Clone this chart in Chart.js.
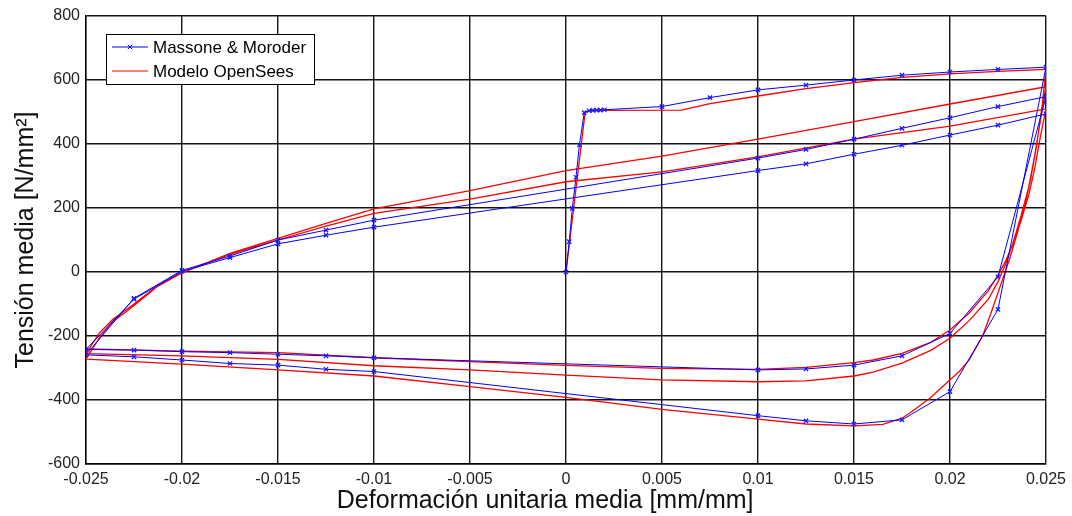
<!DOCTYPE html>
<html><head><meta charset="utf-8">
<script src="https://cdn.jsdelivr.net/npm/chart.js@4/dist/chart.umd.min.js"></script>
<style>html,body{margin:0;padding:0;background:#fff;overflow:hidden}</style>
</head><body>
<canvas id="c" width="1072" height="516"></canvas>
<script>
// ---- labels ----
const seriesNames = ['Massone & Moroder', 'Modelo OpenSees'];
const xTitle = 'Deformación unitaria media [mm/mm]';
const yTitle = 'Tensión media [N/mm²]';
const xTickValues = [-0.025,-0.02,-0.015,-0.01,-0.005,0,0.005,0.01,0.015,0.02,0.025];
const yTickValues = [-600,-400,-200,0,200,400,600,800];

// ---- Massone & Moroder (blue, x markers) : [strain, stress] ----
const blueInitial = [[0,0],[0.00017,95],[0.00033,199],[0.00052,296],[0.0007,397],[0.00095,498],[0.0012,504],[0.0014,505],[0.0016,506],[0.0018,506],[0.002,507],[0.005,517],[0.0075,545],[0.01,569],[0.0125,584],[0.015,600],[0.0175,615],[0.02,625],[0.0225,633],[0.025,640]];
const blueUnload1 = [[0.0225,-117],[0.02,-374],[0.0175,-462],[0.015,-475],[0.0125,-465],[0.01,-449],[-0.01,-311],[-0.0125,-304],[-0.015,-291],[-0.0175,-286],[-0.02,-275],[-0.0225,-265],[-0.025,-259]];
const blueLoad1 = [[-0.0225,-82],[-0.02,5],[-0.0175,50],[-0.015,100],[-0.0125,131],[-0.01,162],[0.01,356],[0.0125,383],[0.015,415],[0.0175,449],[0.02,482],[0.0225,517],[0.025,548]];
const blueUnload2 = [[0.0225,-15],[0.02,-192],[0.0175,-262],[0.015,-291],[0.0125,-303],[0.01,-306],[-0.01,-268],[-0.0125,-262],[-0.015,-257],[-0.0175,-252],[-0.02,-249],[-0.0225,-244],[-0.025,-242]];
const blueLoad2 = [[-0.0225,-85],[-0.02,2],[-0.0175,45],[-0.015,88],[-0.0125,115],[-0.01,140],[0.01,317],[0.0125,338],[0.015,368],[0.0175,396],[0.02,428],[0.0225,459],[0.025,494]];

// ---- Modelo OpenSees (red) ----
const redInitial = [[0,0],[0.0002,100],[0.0004,200],[0.0006,300],[0.0008,400],[0.001,500],[0.0013,505],[0.006,506],[0.0075,526],[0.01,550],[0.0125,573],[0.015,592],[0.0175,608],[0.02,619],[0.0225,627],[0.025,633]];
const redUnload1 = [[0.0248,520],[0.0245,390],[0.0242,290],[0.0239,210],[0.0235,120],[0.0231,40],[0.0227,-30],[0.0222,-117],[0.0217,-200],[0.021,-275],[0.0205,-310],[0.02,-337],[0.019,-392],[0.018,-437],[0.0175,-457],[0.0165,-476],[0.015,-481],[0.0125,-475],[0.01,-460],[0.005,-429],[0,-392],[-0.005,-358],[-0.01,-325],[-0.015,-306],[-0.02,-288],[-0.025,-272]];
const redLoad1 = [[-0.0243,-205],[-0.0236,-155],[-0.023,-128],[-0.0225,-105],[-0.0213,-46],[-0.02,-3],[-0.0175,58],[-0.015,105],[-0.0125,152],[-0.01,197],[-0.005,254],[0,317],[0.005,362],[0.01,415],[0.015,470],[0.02,525],[0.025,579]];
const redUnload2 = [[0.0247,470],[0.0244,360],[0.0241,265],[0.0237,175],[0.0233,95],[0.0229,25],[0.0225,-30],[0.022,-85],[0.021,-152],[0.02,-207],[0.019,-245],[0.0175,-285],[0.016,-313],[0.015,-325],[0.0125,-340],[0.01,-343],[0.005,-337],[0,-322],[-0.005,-306],[-0.01,-293],[-0.015,-273],[-0.02,-262],[-0.025,-255]];
const redLoad2 = [[-0.0243,-190],[-0.0236,-148],[-0.023,-122],[-0.0225,-100],[-0.0213,-44],[-0.02,-2],[-0.0175,55],[-0.015,100],[-0.0125,143],[-0.01,183],[-0.005,228],[0,282],[0.005,313],[0.01,360],[0.015,415],[0.02,456],[0.025,510]];
const redUnload3 = [[0.0247,420],[0.0244,320],[0.0241,240],[0.0237,160],[0.0233,90],[0.0229,35],[0.0225,-10],[0.022,-58],[0.021,-128],[0.02,-181],[0.019,-220],[0.0175,-254],[0.016,-275],[0.015,-283],[0.0125,-298],[0.01,-304],[0.005,-301],[0,-292],[-0.005,-280],[-0.01,-268],[-0.015,-252],[-0.02,-247],[-0.025,-240]];

const toPts = arrs => arrs.flat().map(p => ({x: p[0], y: p[1]}));
const bluePath = toPts([blueInitial, blueUnload1, blueLoad1, blueUnload2, blueLoad2]);
const redPath = toPts([redInitial, redUnload1, redLoad1, redUnload2, redLoad2, redUnload3]);

const FONT = "'Liberation Sans', Arial, Helvetica, sans-serif";

const boxLegend = {
  id: 'boxLegend',
  afterDraw(chart) {
    const ctx = chart.ctx, a = chart.chartArea;
    const x0 = a.left + 20, y0 = a.top + 18, w = 208, h = 50;
    ctx.save();
    ctx.fillStyle = '#fff';
    ctx.fillRect(x0, y0, w, h);
    ctx.strokeStyle = '#000';
    ctx.lineWidth = 1;
    ctx.strokeRect(x0 + 0.5, y0 + 0.5, w, h);
    ctx.font = '17px ' + FONT;
    ctx.textBaseline = 'middle';
    chart.data.datasets.forEach((ds, i) => {
      const yy = y0 + 13 + i * 24;
      ctx.strokeStyle = ds.borderColor;
      ctx.lineWidth = 1;
      ctx.beginPath(); ctx.moveTo(x0 + 6, yy); ctx.lineTo(x0 + 42, yy); ctx.stroke();
      if (ds.pointRadius > 0) {
        const cx = x0 + 24, r = 2.2;
        ctx.beginPath();
        ctx.moveTo(cx - r, yy - r); ctx.lineTo(cx + r, yy + r);
        ctx.moveTo(cx - r, yy + r); ctx.lineTo(cx + r, yy - r);
        ctx.stroke();
      }
      ctx.fillStyle = '#000';
      ctx.fillText(ds.label, x0 + 47, yy + 1);
    });
    ctx.restore();
  }
};

const gridOpts = { color: '#141414', lineWidth: 1.4, drawTicks: false };

new Chart(document.getElementById('c'), {
  type: 'scatter',
  data: {
    datasets: [
      { label: seriesNames[0], data: bluePath, showLine: true, borderColor: '#0000ff', backgroundColor: '#0000ff',
        borderWidth: 1, pointStyle: 'crossRot', pointRadius: 3, pointBorderWidth: 1.3, pointBorderColor: '#1a1aff', order: 1 },
      { label: seriesNames[1], data: redPath, showLine: true, borderColor: '#ff0000', backgroundColor: '#ff0000',
        borderWidth: 1.3, pointRadius: 0, tension: 0, order: 2 }
    ]
  },
  options: {
    responsive: false, animation: false, devicePixelRatio: 1,
    layout: { padding: { left: 0, top: 16, right: 26, bottom: 0 } },
    plugins: { legend: { display: false }, tooltip: { enabled: false } },
    scales: {
      x: {
        type: 'linear', min: -0.025, max: 0.025,
        afterFit: s => { s.height = 52; },
        afterBuildTicks: s => { s.ticks = xTickValues.map(v => ({ value: v })); },
        ticks: { autoSkip: false, maxRotation: 0, padding: 6, color: '#222', font: { family: FONT, size: 16 },
          callback: v => parseFloat(Number(v).toFixed(4)).toString() },
        grid: gridOpts,
        border: { display: true, color: '#000', width: 1.4 },
        title: { display: true, text: xTitle + '      ', color: '#111', font: { family: FONT, size: 25 }, padding: { top: 0, bottom: 0 } }
      },
      y: {
        type: 'linear', min: -600, max: 800,
        afterFit: s => { s.width = 86; },
        afterBuildTicks: s => { s.ticks = yTickValues.map(v => ({ value: v })); },
        ticks: { padding: 6, color: '#222', font: { family: FONT, size: 16 } },
        grid: gridOpts,
        border: { display: true, color: '#000', width: 1.4 },
        title: { display: true, text: yTitle, color: '#111', font: { family: FONT, size: 25 }, padding: { top: 11, bottom: 0 } }
      }
    }
  },
  plugins: [boxLegend]
});
</script>
</body></html>
